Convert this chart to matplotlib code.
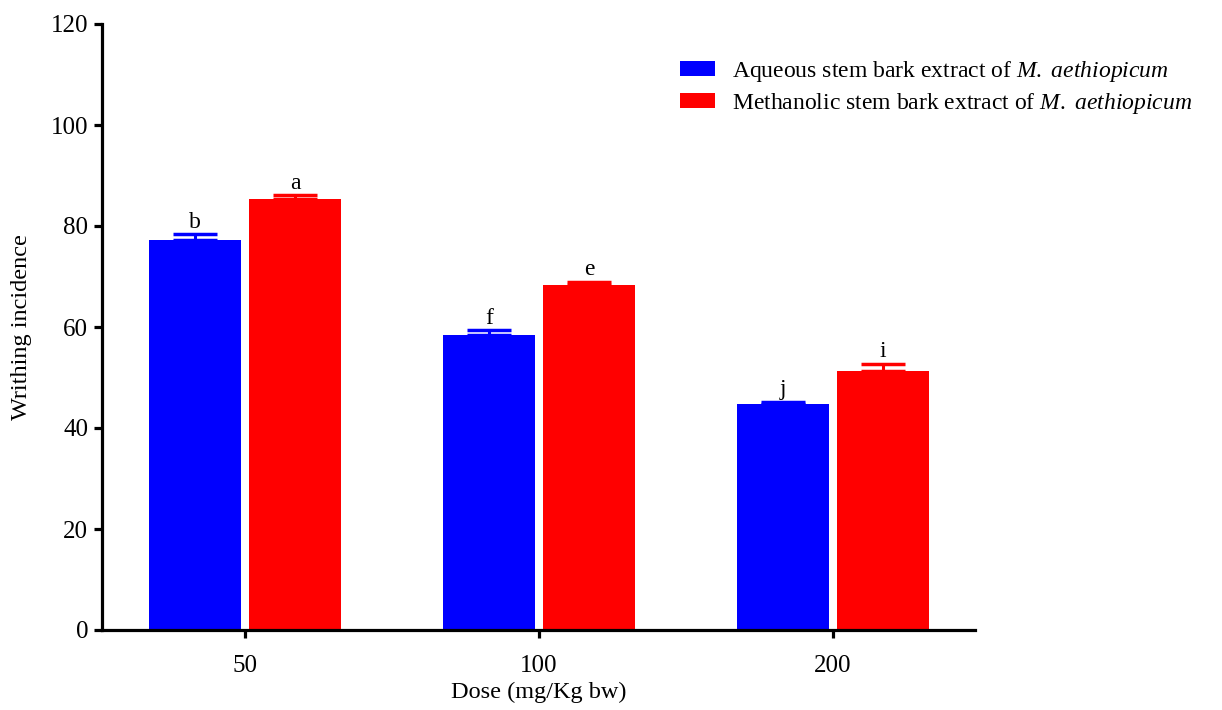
import numpy as np
import matplotlib.pyplot as plt

plt.rcParams['font.family'] = ['Liberation Serif', 'DejaVu Serif']
plt.rcParams['mathtext.fontset'] = 'custom'
plt.rcParams['mathtext.rm'] = 'Liberation Serif'
plt.rcParams['mathtext.it'] = 'Liberation Serif:italic'

doses = ['50', '100', '200']
aqueous = [77.2, 58.5, 44.7]
aqueous_err = [1.2, 0.9, 0.5]
methanolic = [85.3, 68.3, 51.3]
methanolic_err = [0.8, 0.7, 1.4]
aqueous_letters = ['b', 'f', 'j']
methanolic_letters = ['a', 'e', 'i']

fig = plt.figure(figsize=(12.22, 7.10), dpi=100)
ax = fig.add_axes([102/1222, 1 - 630/710, (975-102)/1222, (630-24)/710])

x = np.arange(len(doses))
w = 0.313
off = 0.171

ax.bar(x - off, aqueous, w, color='#0000ff',
       label=r'Aqueous stem bark extract of $\it{M.}$ $\it{aethiopicum}$')
ax.bar(x + off, methanolic, w, color='#ff0000',
       label=r'Methanolic stem bark extract of $\it{M.}$ $\it{aethiopicum}$')

ax.errorbar(x - off, aqueous, yerr=[np.zeros(3), aqueous_err], fmt='none',
            ecolor='#0000ff', elinewidth=2.2, capsize=16, capthick=2.5)
ax.errorbar(x + off, methanolic, yerr=[np.zeros(3), methanolic_err], fmt='none',
            ecolor='#ff0000', elinewidth=2.2, capsize=16, capthick=2.5)

# significance letters above the error caps
for xi, v, e, t in zip(x - off, aqueous, aqueous_err, aqueous_letters):
    ax.annotate(t, (xi, v + e), xytext=(0, 1), textcoords='offset points',
                ha='center', va='bottom', fontsize=17)
for xi, v, e, t in zip(x + off, methanolic, methanolic_err, methanolic_letters):
    ax.annotate(t, (xi, v + e), xytext=(0, 1), textcoords='offset points',
                ha='center', va='bottom', fontsize=17)

ax.set_xlim(-0.487, 2.483)
ax.set_ylim(0, 120)
ax.set_yticks(range(0, 121, 20))
ax.set_xticks(x)
ax.set_xticklabels(doses)
ax.spines['top'].set_visible(False)
ax.spines['right'].set_visible(False)
ax.spines['left'].set_linewidth(2.3)
ax.spines['bottom'].set_linewidth(2.3)
ax.tick_params(axis='both', direction='out', length=6, width=2.3, labelsize=18)
ax.tick_params(axis='x', pad=12)
ax.tick_params(axis='y', pad=4)

ax.set_ylabel('Writhing incidence', fontsize=17.5)
ax.yaxis.set_label_coords(-80/873, 0.5)
ax.set_xlabel('Dose (mg/Kg bw)', fontsize=17.5)
ax.xaxis.set_label_coords(0.5, -(692 - 630) / 606)
ax.xaxis.label.set_va('center')
ax.yaxis.label.set_va('center')

ax.legend(loc='upper left', bbox_to_anchor=(680/1222, 1 - 59/710), bbox_transform=fig.transFigure,
          frameon=False, fontsize=17, handlelength=1.5, handleheight=0.6,
          handletextpad=0.7, labelspacing=0.3, borderpad=0, borderaxespad=0)

fig.savefig('out.png', dpi=100)
